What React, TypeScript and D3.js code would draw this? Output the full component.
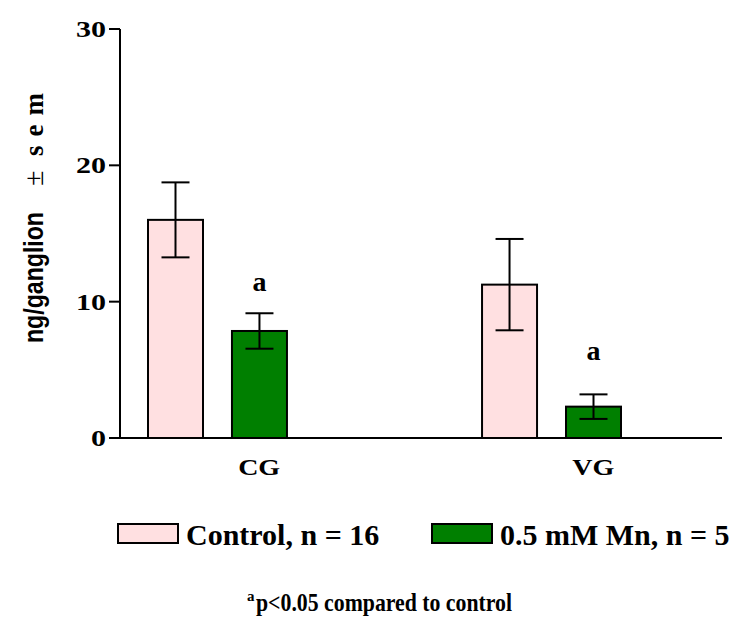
import React from "react";
import * as d3 from "d3";

const categories = ["CG", "VG"];
const seriesNames = ["Control, n = 16", "0.5 mM Mn, n = 5"];
const controlMeans = [16.0, 11.25];
const controlSem = [2.75, 3.35];
const mnMeans = [7.85, 2.3];
const mnSem = [1.3, 0.9];
const sigLabelY = [10.8, 5.7];
const yTicks = [0, 10, 20, 30];
const colors = ["#FFE0E1", "#007F00"];

const SERIF = "'Liberation Serif', 'Times New Roman', serif";
const SANS = "'Liberation Sans', Arial, sans-serif";

export default function App() {
  const W = 750, H = 630;
  const left = 120, right = 722, top = 29, bottom = 438;
  const y = d3.scaleLinear().domain([0, 30]).range([bottom, top]);
  const x0 = d3.scaleBand<string>().domain(categories).range([148, 621]).paddingInner(0.584).paddingOuter(0);
  const x1 = d3.scaleBand<string>().domain(seriesNames).range([0, x0.bandwidth()]).paddingInner(0.345).paddingOuter(0);
  const means = [controlMeans, mnMeans];
  const sems = [controlSem, mnSem];
  const capW = 28;

  return (
    <svg width={W} height={H} style={{ position: "absolute", left: 0, top: 0, background: "#fff" }}>
      <rect x={0} y={0} width={W} height={H} fill="#fff" />
      {categories.map((c, ci) => (
        <g key={c}>
          {seriesNames.map((s, si) => {
            const bx = x0(c)! + x1(s)!;
            const bw = x1.bandwidth();
            const v = means[si][ci];
            const e = sems[si][ci];
            const cx = bx + bw / 2;
            return (
              <g key={s}>
                <rect x={bx} y={y(v)} width={bw} height={y(0) - y(v)} fill={colors[si]} stroke="#000" strokeWidth={2} />
                <line x1={cx} x2={cx} y1={y(v + e)} y2={y(v - e)} stroke="#000" strokeWidth={2} />
                <line x1={cx - capW / 2} x2={cx + capW / 2} y1={y(v + e)} y2={y(v + e)} stroke="#000" strokeWidth={2} />
                <line x1={cx - capW / 2} x2={cx + capW / 2} y1={y(v - e)} y2={y(v - e)} stroke="#000" strokeWidth={2} />
              </g>
            );
          })}
          <text
            x={x0(c)! + x1(seriesNames[1])! + x1.bandwidth() / 2}
            y={y(sigLabelY[ci])}
            textAnchor="middle"
            fontFamily={SERIF}
            fontWeight="bold"
            fontSize={28}
          >a</text>
          <text
            x={x0(c)! + x0.bandwidth() * 0.8 - 21}
            y={475}
            fontFamily={SERIF}
            fontWeight="bold"
            fontSize={23}
            textLength={42}
            lengthAdjust="spacingAndGlyphs"
          >{c}</text>
        </g>
      ))}
      <line x1={left} x2={left} y1={top} y2={bottom} stroke="#000" strokeWidth={2} />
      <line x1={left - 1} x2={right} y1={bottom} y2={bottom} stroke="#000" strokeWidth={2} />
      {yTicks.map((t) => {
        const len = String(t).length * 15;
        return (
          <g key={t}>
            <line x1={left - 11} x2={left} y1={y(t)} y2={y(t)} stroke="#000" strokeWidth={2} />
            <text x={left - 14 - len} y={y(t) + 8} fontFamily={SERIF} fontWeight="bold" fontSize={24}
              textLength={len} lengthAdjust="spacingAndGlyphs">{t}</text>
          </g>
        );
      })}
      <g transform={`translate(43, 343) rotate(-90)`}>
        <text x={0} y={0} fontSize={28} fontWeight="bold" fontFamily={SANS} textLength={131} lengthAdjust="spacingAndGlyphs">ng/ganglion</text>
        <text x={157} y={0} fontSize={28} fontFamily={SERIF}>±</text>
        <text x={187} y={0} fontSize={27} fontWeight="bold" fontFamily={SERIF} textLength={63} lengthAdjust="spacing">sem</text>
      </g>
      {seriesNames.map((s, si) => {
        const lx = [118, 432][si];
        return (
          <g key={s}>
            <rect x={lx} y={524} width={60} height={19} fill={colors[si]} stroke="#000" strokeWidth={2} />
            <text x={lx + 68} y={545} fontFamily={SERIF} fontWeight="bold" fontSize={30}>{s}</text>
          </g>
        );
      })}
      <text x={247} y={601} fontFamily={SERIF} fontWeight="bold" fontSize={15}>a</text>
      <text x={256} y={611} fontFamily={SERIF} fontWeight="bold" fontSize={25} textLength={256} lengthAdjust="spacingAndGlyphs">p&lt;0.05 compared to control</text>
    </svg>
  );
}
